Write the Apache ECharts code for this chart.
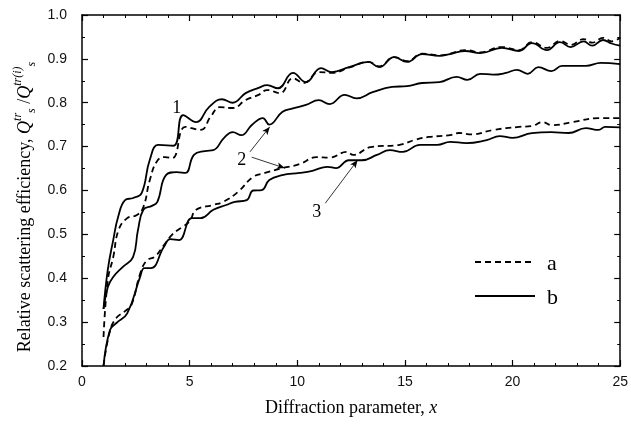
<!DOCTYPE html>
<html><head><meta charset="utf-8">
<script src="https://cdn.jsdelivr.net/npm/echarts@6/dist/echarts.min.js"></script>
<style>html,body{margin:0;padding:0;background:#fff}#c{width:631px;height:425px}</style>
</head><body><div id="c"></div>
<script>
// ---- data (x = diffraction parameter, y = relative scattering efficiency) ----
const curve1a = [[1,0.266],[1.2,0.396],[1.45,0.448],[1.7,0.51],[2.1,0.537],[2.55,0.544],[2.85,0.562],[3.15,0.624],[3.5,0.668],[3.85,0.676],[4.2,0.674],[4.8,0.745],[5.5,0.738],[6.0,0.77],[6.4,0.79],[7.0,0.788],[7.6,0.806],[8.2,0.818],[8.6,0.829],[9.2,0.822],[9.8,0.856],[10.3,0.845],[11.0,0.87],[11.6,0.868],[12.4,0.88],[13.3,0.893],[13.8,0.883],[14.5,0.904],[15.1,0.895],[15.8,0.912],[16.6,0.908],[17.1,0.912],[17.8,0.92],[18.5,0.915],[19.5,0.927],[20.3,0.92],[20.9,0.938],[21.6,0.925],[22.2,0.941],[22.7,0.932],[23.3,0.945],[23.7,0.937],[24.2,0.948],[24.6,0.94],[25,0.948]];
const curve1b = [[1,0.33],[1.2,0.42],[1.45,0.487],[1.68,0.54],[2.0,0.578],[2.38,0.583],[2.77,0.594],[3.15,0.67],[3.55,0.704],[4.25,0.702],[4.7,0.772],[5.3,0.756],[5.9,0.79],[6.5,0.808],[7.0,0.80],[7.6,0.822],[8.2,0.834],[8.6,0.84],[9.1,0.833],[9.8,0.868],[10.4,0.847],[11.1,0.879],[11.6,0.87],[12.4,0.881],[13.3,0.893],[13.8,0.881],[14.5,0.904],[15.1,0.893],[15.8,0.911],[16.6,0.907],[17.1,0.911],[17.8,0.918],[18.5,0.913],[19.5,0.925],[20.3,0.918],[20.9,0.936],[21.6,0.92],[22.2,0.938],[22.7,0.927],[23.3,0.94],[23.7,0.93],[24.2,0.943],[24.6,0.935],[25,0.93]];
const curve2a = [[1,0.2],[1.3,0.28],[1.6,0.31],[2.0,0.325],[2.3,0.34],[2.7,0.41],[3.0,0.44],[3.4,0.45],[3.8,0.475],[4.2,0.5],[4.6,0.515],[5.0,0.53],[5.3,0.556],[6.1,0.567],[6.6,0.575],[7.25,0.597],[7.95,0.631],[8.5,0.64],[9.3,0.651],[10.1,0.66],[10.9,0.676],[11.5,0.675],[12.3,0.688],[12.6,0.681],[13.4,0.699],[14.75,0.704],[15.5,0.716],[16.1,0.722],[17.1,0.726],[17.5,0.731],[18.1,0.728],[19.1,0.738],[20.3,0.745],[20.9,0.747],[21.4,0.756],[21.8,0.749],[22.8,0.756],[24.0,0.765],[25,0.765]];
const curve2b = [[1,0.33],[1.2,0.38],[1.45,0.403],[1.9,0.426],[2.37,0.448],[2.6,0.51],[2.85,0.556],[3.25,0.565],[3.5,0.574],[3.9,0.635],[4.4,0.642],[4.8,0.64],[5.2,0.681],[5.7,0.69],[6.1,0.692],[6.6,0.72],[7.0,0.733],[7.4,0.726],[7.9,0.75],[8.4,0.765],[8.7,0.75],[9.3,0.779],[9.8,0.787],[10.4,0.795],[11.0,0.806],[11.5,0.797],[12.2,0.818],[12.75,0.81],[13.5,0.824],[14.4,0.836],[15.1,0.838],[15.8,0.845],[16.6,0.847],[17.4,0.859],[17.9,0.852],[18.5,0.866],[19.1,0.864],[19.7,0.868],[20.2,0.875],[20.7,0.866],[21.2,0.881],[21.8,0.872],[22.3,0.884],[23.4,0.884],[24.1,0.891],[25,0.888]];
const curve3b = [[1,0.2],[1.3,0.282],[1.6,0.298],[2.1,0.32],[2.7,0.403],[2.9,0.423],[3.2,0.423],[3.8,0.471],[4.1,0.489],[4.5,0.487],[5.1,0.537],[5.5,0.537],[6.1,0.556],[6.7,0.567],[7.1,0.574],[7.65,0.578],[7.95,0.6],[8.35,0.601],[8.7,0.624],[9.3,0.635],[10.1,0.64],[10.7,0.645],[11.4,0.654],[11.8,0.651],[12.4,0.669],[13.0,0.669],[13.7,0.681],[14.3,0.692],[14.9,0.688],[15.7,0.704],[16.5,0.704],[17.1,0.711],[17.85,0.708],[18.8,0.715],[19.4,0.724],[20.0,0.72],[20.9,0.731],[21.8,0.733],[22.6,0.731],[23.4,0.742],[24.0,0.738],[24.3,0.745],[25,0.744]];
const legendNames = ['a', 'b'];
const annotLabels = [{t:'1', x:4.4, y:0.788}, {t:'2', x:7.42, y:0.67}, {t:'3', x:10.9, y:0.551}];
const annotArrows = [[[7.8,0.688],[8.72,0.745]], [[7.88,0.676],[9.42,0.651]], [[11.3,0.571],[12.8,0.669]]];

const serif = 'Liberation Serif';
const sans = 'Liberation Sans';
const chart = echarts.init(document.getElementById('c'));

function mkX(pos, show) {
  return {type:'value', min:0, max:25, interval:5, position:pos,
    axisLine:{show:true, onZero:false, lineStyle:{color:'#000', width:1.5}},
    axisTick:{show:true, inside:true, length:6, lineStyle:{color:'#000', width:1.2}},
    minorTick:{show:true, splitNumber:5, length:3, lineStyle:{color:'#000', width:1}},
    splitLine:{show:false},
    axisLabel:{show:show, color:'#111', fontFamily:sans, fontSize:14, margin:9}};
}
function mkY(pos, show) {
  return {type:'value', min:0.2, max:1.0, interval:0.1, position:pos,
    axisLine:{show:true, onZero:false, lineStyle:{color:'#000', width:1.5}},
    axisTick:{show:true, inside:true, length:6, lineStyle:{color:'#000', width:1.2}},
    minorTick:{show:true, splitNumber:2, length:3, lineStyle:{color:'#000', width:1}},
    splitLine:{show:false},
    axisLabel:{show:show, color:'#111', fontFamily:sans, fontSize:14, margin:15, formatter:v=>v.toFixed(1)}};
}
const xb = mkX('bottom', true);
xb.name = 'Diffraction parameter, {i|x}';
xb.nameLocation = 'middle';
xb.nameGap = 33;
xb.nameTextStyle = {fontFamily:serif, fontSize:18, color:'#000', rich:{i:{fontFamily:serif, fontStyle:'italic', fontSize:18, color:'#000'}}};

const dash = [6,4];
function line(name, data, dashed) {
  return {type:'line', name:name, data:data, xAxisIndex:0, yAxisIndex:0, symbol:'none', showSymbol:false,
    smooth:0.45, animation:false,
    lineStyle:{color:'#000', width:1.8, type: dashed ? dash : 'solid'}, itemStyle:{color:'#000'}};
}

const option = {
  animation:false,
  grid:{left:82, right:10, top:15, bottom:59},
  xAxis:[xb, mkX('top', false)],
  yAxis:[mkY('left', true), mkY('right', false)],
  series:[
    line('a', curve1a, true),
    line('b', curve1b, false),
    line('a', curve2a, true),
    line('b', curve2b, false),
    line('b', curve3b, false),
    {type:'line', name:'annot', data:[], xAxisIndex:0, yAxisIndex:0, symbol:'none',
      markLine:{silent:true, symbol:['none','arrow'], symbolSize:[5,8], label:{show:false},
        lineStyle:{color:'#000', width:0.8, type:'solid'},
        data: annotArrows.map(a => [{coord:a[0]}, {coord:a[1]}])}}
  ]
};
chart.setOption(option);

const g = annotLabels.map(l => {
  const p = chart.convertToPixel({gridIndex:0}, [l.x, l.y]);
  return {type:'text', x:p[0], y:p[1], style:{text:l.t, fontFamily:serif, fontSize:18, fill:'#000', align:'center', verticalAlign:'middle'}};
});
// legend (drawn as graphic so the icon is a plain line)
legendNames.forEach((nm, i) => {
  const y = 262 + i * 34;
  g.push({type:'line', shape:{x1:475, y1:y, x2:535, y2:y},
    style:{stroke:'#000', lineWidth: i === 0 ? 1.8 : 2.2, lineDash: i === 0 ? dash : null}});
  g.push({type:'text', x:547, y:y + 2, style:{text:nm, fontFamily:serif, fontSize:22, fill:'#000', align:'left', verticalAlign:'middle'}});
});
g.push({type:'text', x:25, y:207, rotation:Math.PI/2,
  style:{text:'{n|Relative scattering efficiency, }{q|Q}{sp|tr}{sb|s}{n| /}{q|Q}{sp|tr(i)}{sb|s}',
    align:'center', verticalAlign:'middle', fill:'#000',
    rich:{
      n:{fontFamily:serif, fontSize:18, lineHeight:26, verticalAlign:'middle', fill:'#000'},
      q:{fontFamily:serif, fontSize:18, fontStyle:'italic', lineHeight:26, verticalAlign:'middle', fill:'#000'},
      sp:{fontFamily:serif, fontSize:12, fontStyle:'italic', lineHeight:26, verticalAlign:'top', fill:'#000'},
      sb:{fontFamily:serif, fontSize:12, fontStyle:'italic', lineHeight:26, verticalAlign:'bottom', fill:'#000'}
    }}});
chart.setOption({graphic:g});
</script>
</body></html>
